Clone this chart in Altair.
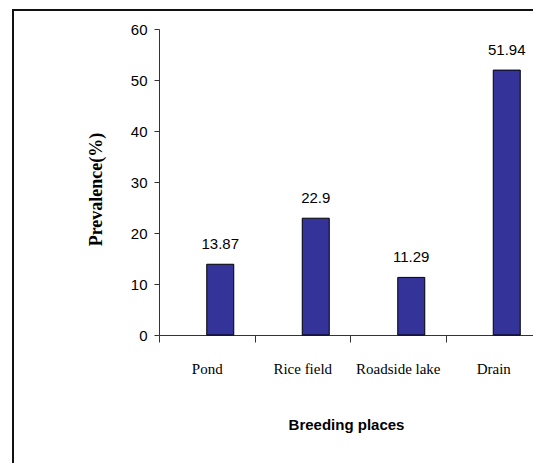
import altair as alt
import pandas as pd

places = ["Pond", "Rice field", "Roadside lake", "Drain"]
prevalence = [13.87, 22.9, 11.29, 51.94]
value_labels = ["13.87", "22.9", "11.29", "51.94"]
y_ticks = [0, 10, 20, 30, 40, 50, 60]

df = pd.DataFrame({"place": places, "prev": prevalence, "label": value_labels})

NUM_FONT = "Liberation Sans"

x_enc = alt.X(
    "place:N",
    sort=places,
    scale=alt.Scale(range=[0, 382], paddingInner=0, paddingOuter=0),
    axis=alt.Axis(
        title="Breeding places",
        titleFont="Liberation Sans",
        titleFontSize=15,
        titleFontWeight="bold",
        titleColor="#000",
        titleX=187,
        titleY=89,
        titleBaseline="middle",
        labelFont="Liberation Serif",
        labelFontSize=15,
        labelColor="#000",
        labelAngle=0,
        labelBaseline="alphabetic",
        labelPadding=31,
        tickBand="extent",
        tickSize=7,
        tickColor="#333",
        domainColor="#333",
        grid=False,
    ),
)

y_enc = alt.Y(
    "prev:Q",
    scale=alt.Scale(domain=[0, 60], nice=False),
    axis=alt.Axis(
        values=y_ticks,
        title="Prevalence(%)",
        titleFont="Liberation Serif",
        titleFontSize=18,
        titleFontWeight="bold",
        titleColor="#000",
        titleAngle=270,
        titleX=-58,
        titleY=160,
        titleBaseline="alphabetic",
        labelFont=NUM_FONT,
        labelFontSize=15,
        labelColor="#000",
        labelPadding=7,
        tickSize=5,
        tickColor="#333",
        domainColor="#333",
        grid=False,
    ),
)

bars = alt.Chart(df).mark_bar(
    width=27, xOffset=13.5, fill="#333399", stroke="#000", strokeWidth=1
).encode(x=x_enc, y=y_enc)

texts = alt.Chart(df).mark_text(
    xOffset=13.5, dy=-15, baseline="alphabetic", font=NUM_FONT, fontSize=15, color="#000"
).encode(x=alt.X("place:N", sort=places), y=alt.Y("prev:Q"), text="label:N")

frame = alt.Chart(alt.Data(values=[{"a": 1}])).mark_rect(
    fillOpacity=0, stroke="#111", strokeWidth=2
).encode(x=alt.value(-146), x2=alt.value(700), y=alt.value(-19), y2=alt.value(700))

chart = alt.layer(frame, bars, texts).properties(
    width=374,
    height=306,
    autosize=alt.AutoSizeParams(type="none"),
    padding={"left": 159, "top": 29, "right": 0, "bottom": 128},
    background="white",
).configure_view(strokeWidth=0)

chart.save("out.html", embed_options={"renderer": "svg", "actions": False})
